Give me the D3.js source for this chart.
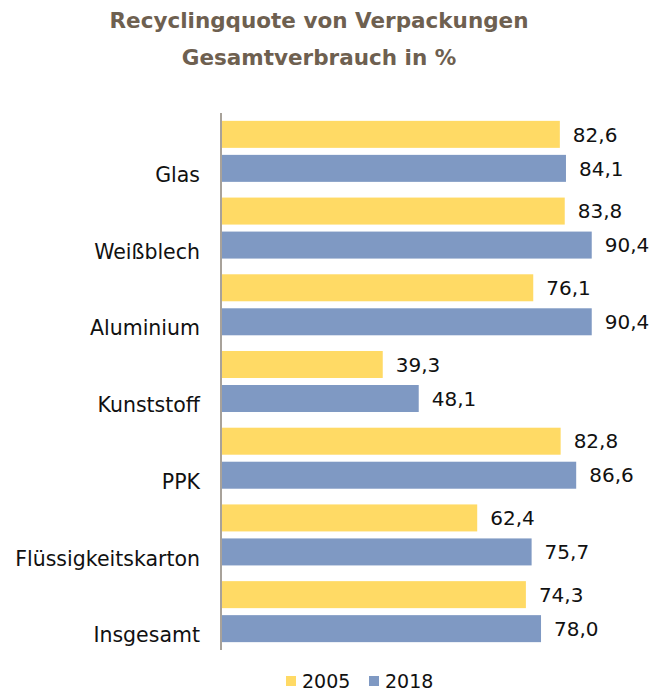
<!DOCTYPE html>
<html><head><meta charset="utf-8">
<script src="https://cdn.jsdelivr.net/npm/d3@7"></script>
<style>body{margin:0;background:#fff}svg{display:block}</style>
</head><body>
<script>
const categories = ["Glas","Weißblech","Aluminium","Kunststoff","PPK","Flüssigkeitskarton","Insgesamt"];
const years = ["2005","2018"];
const values2005 = [82.6,83.8,76.1,39.3,82.8,62.4,74.3];
const values2018 = [84.1,90.4,90.4,48.1,86.6,75.7,78.0];
const titleLines = ["Recyclingquote von Verpackungen","Gesamtverbrauch in %"];
const colors = {"2005":"#FFDA65","2018":"#7F99C3"};

const W=668,H=691;
const svg=d3.select("body").append("svg").attr("width",W).attr("height",H);
const font="DejaVu Sans, Verdana, sans-serif";

const x=d3.scaleLinear().domain([0,100]).range([222,631]);
const y=d3.scaleBand().domain(categories).range([113,650]).paddingInner(0).paddingOuter(0);
const yi=d3.scaleBand().domain(years).range([0,y.bandwidth()]).paddingInner(0.206).paddingOuter(0.231);

const data=[];
categories.forEach((c,i)=>{data.push({c,yr:"2005",v:values2005[i]});data.push({c,yr:"2018",v:values2018[i]});});

svg.selectAll("rect.bar").data(data).enter().append("rect")
 .attr("x",x(0)).attr("y",d=>y(d.c)+yi(d.yr)).attr("width",d=>x(d.v)-x(0)).attr("height",yi.bandwidth())
 .attr("fill",d=>colors[d.yr]);

svg.selectAll("text.val").data(data).enter().append("text")
 .attr("x",d=>x(d.v)+13).attr("y",d=>y(d.c)+yi(d.yr)+yi.bandwidth()/2).attr("dy","0.36em")
 .attr("font-family",font).attr("font-size",20).attr("fill","#111")
 .text(d=>d3.format(".1f")(d.v).replace(".",","));

// axis line
svg.append("line").attr("x1",221).attr("x2",221).attr("y1",113).attr("y2",650)
 .attr("stroke","#A8A29A").attr("stroke-width",2);

svg.selectAll("text.cat").data(categories).enter().append("text")
 .attr("x",200).attr("y",d=>y(d)+69).attr("text-anchor","end")
 .attr("font-family",font).attr("font-size",20.5).attr("fill","#111").text(d=>d);

svg.selectAll("text.title").data(titleLines).enter().append("text")
 .attr("x",319).attr("y",(d,i)=>28+i*37).attr("text-anchor","middle")
 .attr("font-family",font).attr("font-weight","bold").attr("font-size",21.5).attr("fill","#6E6050").text(d=>d);

const leg=[{yr:"2005",x:286},{yr:"2018",x:369}];
leg.forEach(l=>{
 svg.append("rect").attr("x",l.x).attr("y",676).attr("width",10).attr("height",10).attr("fill",colors[l.yr]);
 svg.append("text").attr("x",l.x+16).attr("y",688).attr("font-family",font).attr("font-size",19).attr("fill","#111").text(l.yr);
});
</script>
</body></html>
